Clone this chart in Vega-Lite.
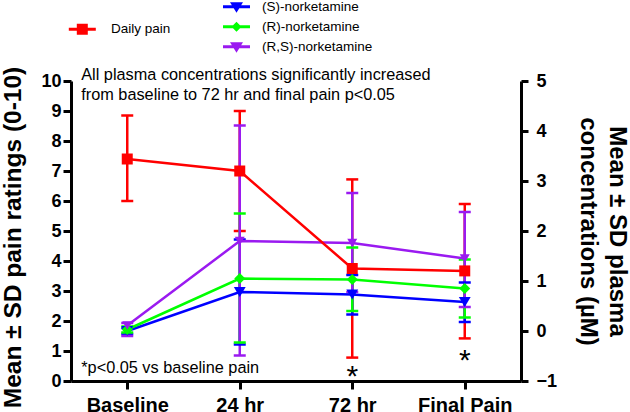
{
  "$schema": "https://vega.github.io/schema/vega-lite/v6.json",
  "width": 450,
  "height": 300,
  "autosize": {"type": "none"},
  "padding": {"left": 71, "top": 81, "right": 109, "bottom": 31},
  "background": "white",
  "config": {
    "view": {"stroke": null},
    "font": "Liberation Sans",
    "axis": {
      "grid": false,
      "domainColor": "#000",
      "domainWidth": 3,
      "tickColor": "#000",
      "tickWidth": 3,
      "labelColor": "#000",
      "labelFont": "Liberation Sans",
      "labelFontWeight": "bold",
      "titleFont": "Liberation Sans",
      "titleFontWeight": "bold",
      "titleColor": "#000"
    }
  },
  "datasets": {
    "pain": [
      {"time": "Baseline", "mean": 7.4, "lo": 6.0, "hi": 8.85},
      {"time": "24 hr", "mean": 7.0, "lo": 5.0, "hi": 9.0},
      {"time": "72 hr", "mean": 3.75, "lo": 0.78, "hi": 6.72},
      {"time": "Final Pain", "mean": 3.67, "lo": 1.42, "hi": 5.9}
    ],
    "plasma": [
      {"series": "(S)-norketamine", "time": "Baseline", "mean": 0.0, "lo": -0.06, "hi": 0.06},
      {"series": "(S)-norketamine", "time": "24 hr", "mean": 0.78, "lo": -0.27, "hi": 1.83},
      {"series": "(S)-norketamine", "time": "72 hr", "mean": 0.73, "lo": 0.33, "hi": 1.12},
      {"series": "(S)-norketamine", "time": "Final Pain", "mean": 0.58, "lo": 0.18, "hi": 0.97},
      {"series": "(R)-norketamine", "time": "Baseline", "mean": 0.03, "lo": -0.03, "hi": 0.09},
      {"series": "(R)-norketamine", "time": "24 hr", "mean": 1.05, "lo": -0.23, "hi": 2.35},
      {"series": "(R)-norketamine", "time": "72 hr", "mean": 1.03, "lo": 0.4, "hi": 1.67},
      {"series": "(R)-norketamine", "time": "Final Pain", "mean": 0.85, "lo": 0.27, "hi": 1.43},
      {"series": "(R,S)-norketamine", "time": "Baseline", "mean": 0.11, "lo": -0.1, "hi": 0.16},
      {"series": "(R,S)-norketamine", "time": "24 hr", "mean": 1.8, "lo": -0.49, "hi": 4.11},
      {"series": "(R,S)-norketamine", "time": "72 hr", "mean": 1.76, "lo": 0.78, "hi": 2.76},
      {"series": "(R,S)-norketamine", "time": "Final Pain", "mean": 1.45, "lo": 0.48, "hi": 2.38}
    ],
    "notes": [
      {"time": "Baseline", "val": 10.02, "label": "All plasma concentrations significantly increased\nfrom baseline to 72 hr and final pain p<0.05"},
      {"time": "Baseline", "val": 0.27, "label": "*p<0.05 vs baseline pain"}
    ],
    "stars": [
      {"time": "72 hr", "val": -0.18, "label": "*"},
      {"time": "Final Pain", "val": 0.36, "label": "*"}
    ]
  },
  "encoding": {
    "x": {
      "field": "time",
      "type": "ordinal",
      "sort": ["Baseline", "24 hr", "72 hr", "Final Pain"],
      "scale": {"type": "point", "padding": 0.5, "domain": ["Baseline", "24 hr", "72 hr", "Final Pain"]},
      "axis": {"title": null, "labelAngle": 0, "labelFontSize": 20, "tickSize": 8, "labelPadding": 6}
    }
  },
  "layer": [
    {
      "data": {"name": "pain"},
      "encoding": {
        "y": {
          "field": "lo",
          "type": "quantitative",
          "scale": {"domain": [0, 10], "nice": false, "zero": false},
          "axis": {
            "orient": "left",
            "values": [0, 1, 2, 3, 4, 5, 6, 7, 8, 9, 10],
            "title": "Mean ± SD pain ratings (0-10)",
            "labelFontSize": 18,
            "tickSize": 8,
            "labelPadding": 2,
            "titleFontSize": 24.5,
            "titleAngle": 270,
            "titleX": -51,
            "titleY": 156,
            "titleAlign": "center",
            "titleBaseline": "alphabetic"
          }
        }
      },
      "layer": [
        {"mark": {"type": "rule", "color": "#ff0000", "strokeWidth": 2.5}, "encoding": {"y2": {"field": "hi"}}},
        {"mark": {"type": "tick", "color": "#ff0000", "thickness": 2.5, "size": 12, "opacity": 1}},
        {"mark": {"type": "tick", "color": "#ff0000", "thickness": 2.5, "size": 12, "opacity": 1}, "encoding": {"y": {"field": "hi", "type": "quantitative"}}}
      ]
    },
    {
      "data": {"name": "plasma"},
      "encoding": {
        "y": {
          "field": "mean",
          "type": "quantitative",
          "scale": {"domain": [-1, 5], "nice": false, "zero": false},
          "axis": {
            "orient": "right",
            "values": [-1, 0, 1, 2, 3, 4, 5],
            "title": ["Mean ± SD plasma", "concentrations (µM)"],
            "labelFontSize": 18,
            "tickSize": 7,
            "labelPadding": 8,
            "titleFontSize": 24,
            "titleAngle": 90,
            "titleX": 88,
            "titleY": 150,
            "titleAlign": "center",
            "titleBaseline": "alphabetic",
            "titleLineHeight": 29
          }
        },
        "color": {
          "field": "series",
          "type": "nominal",
          "scale": {"domain": ["(S)-norketamine", "(R)-norketamine", "(R,S)-norketamine"], "range": ["#0000ff", "#00ff00", "#9a1af0"]},
          "legend": null
        }
      },
      "layer": [
        {"mark": {"type": "rule", "strokeWidth": 2.5}, "encoding": {"y": {"field": "lo", "type": "quantitative"}, "y2": {"field": "hi"}}},
        {"mark": {"type": "tick", "thickness": 2.5, "size": 12, "opacity": 1}, "encoding": {"y": {"field": "lo", "type": "quantitative"}}},
        {"mark": {"type": "tick", "thickness": 2.5, "size": 12, "opacity": 1}, "encoding": {"y": {"field": "hi", "type": "quantitative"}}},
        {"mark": {"type": "line", "strokeWidth": 2.5}},
        {
          "mark": {"type": "point", "filled": true, "opacity": 1, "strokeWidth": 0},
          "encoding": {
            "shape": {"field": "series", "type": "nominal", "scale": {"domain": ["(S)-norketamine", "(R)-norketamine", "(R,S)-norketamine"], "range": ["triangle-down", "diamond", "triangle-down"]}, "legend": null},
            "size": {"field": "series", "type": "nominal", "scale": {"domain": ["(S)-norketamine", "(R)-norketamine", "(R,S)-norketamine"], "range": [140, 100, 140]}, "legend": null}
          }
        }
      ]
    },
    {
      "layer": [
        {
          "data": {"name": "pain"},
          "mark": {"type": "line", "color": "#ff0000", "strokeWidth": 2.5},
          "encoding": {"y": {"field": "mean", "type": "quantitative", "scale": {"domain": [0, 10], "nice": false, "zero": false}, "axis": null}}
        },
        {
          "data": {"name": "pain"},
          "mark": {"type": "point", "shape": "square", "filled": true, "color": "#ff0000", "size": 121, "opacity": 1, "strokeWidth": 0},
          "encoding": {"y": {"field": "mean", "type": "quantitative", "axis": null}}
        },
        {
          "data": {"name": "notes"},
          "mark": {"type": "text", "align": "left", "baseline": "alphabetic", "dx": -46, "fontSize": 16.3, "lineBreak": "\n", "lineHeight": 19.5, "color": "#000", "font": "Liberation Sans"},
          "encoding": {"y": {"field": "val", "type": "quantitative", "axis": null}, "text": {"field": "label"}}
        },
        {
          "data": {"name": "stars"},
          "mark": {"type": "text", "align": "center", "baseline": "alphabetic", "fontSize": 30, "color": "#000", "font": "Liberation Sans"},
          "encoding": {"y": {"field": "val", "type": "quantitative", "axis": null}, "text": {"field": "label"}}
        }
      ]
    },
    {
      "data": {"values": []},
      "mark": {"type": "point", "filled": true, "opacity": 1},
      "encoding": {
        "color": {
          "field": "series", "type": "nominal",
          "scale": {"domain": ["Daily pain"], "range": ["#ff0000"]},
          "legend": {"title": null, "orient": "none", "legendX": 1.3, "legendY": -61.7, "symbolSize": 380, "symbolStrokeWidth": 0, "symbolOpacity": 1, "labelFontSize": 13.5, "labelOffset": 18.7, "rowPadding": 3, "padding": 0, "labelFont": "Liberation Sans", "labelColor": "#000"}
        },
        "shape": {
          "field": "series", "type": "nominal",
          "scale": {"domain": ["Daily pain"], "range": ["M-1.385,-0.154H1.385V0.154H-1.385Z M-0.564,-0.564H0.564V0.564H-0.564Z"]},
          "legend": {"title": null, "orient": "none", "legendX": 1.3, "legendY": -61.7, "symbolSize": 380, "symbolStrokeWidth": 0, "symbolOpacity": 1, "labelFontSize": 13.5, "labelOffset": 18.7, "rowPadding": 3, "padding": 0, "labelFont": "Liberation Sans", "labelColor": "#000"}
        }
      }
    },
    {
      "data": {"values": []},
      "mark": {"type": "point", "filled": true, "opacity": 1},
      "encoding": {
        "color": {
          "field": "series", "type": "nominal",
          "scale": {"domain": ["(S)-norketamine", "(R)-norketamine", "(R,S)-norketamine"], "range": ["#0000ff", "#00ff00", "#9a1af0"]},
          "legend": {"title": null, "orient": "none", "legendX": 155.5, "legendY": -84.2, "symbolSize": 380, "symbolStrokeWidth": 0, "symbolOpacity": 1, "labelFontSize": 13.5, "labelOffset": 15.5, "rowPadding": 3, "padding": 0, "labelFont": "Liberation Sans", "labelColor": "#000"}
        },
        "shape": {
          "field": "series", "type": "nominal",
          "scale": {"domain": ["(S)-norketamine", "(R)-norketamine", "(R,S)-norketamine"], "range": [
            "M-1.385,-0.154H1.385V0.154H-1.385Z M-0.667,-0.472H0.667L0,0.616Z",
            "M-1.385,-0.154H1.385V0.154H-1.385Z M0,-0.513L0.513,0L0,0.513L-0.513,0Z",
            "M-1.385,-0.154H1.385V0.154H-1.385Z M-0.667,-0.472H0.667L0,0.616Z"
          ]},
          "legend": {"title": null, "orient": "none", "legendX": 155.5, "legendY": -84.2, "symbolSize": 380, "symbolStrokeWidth": 0, "symbolOpacity": 1, "labelFontSize": 13.5, "labelOffset": 15.5, "rowPadding": 3, "padding": 0, "labelFont": "Liberation Sans", "labelColor": "#000"}
        }
      }
    }
  ],
  "resolve": {"scale": {"y": "independent", "color": "independent", "shape": "independent"}}
}
